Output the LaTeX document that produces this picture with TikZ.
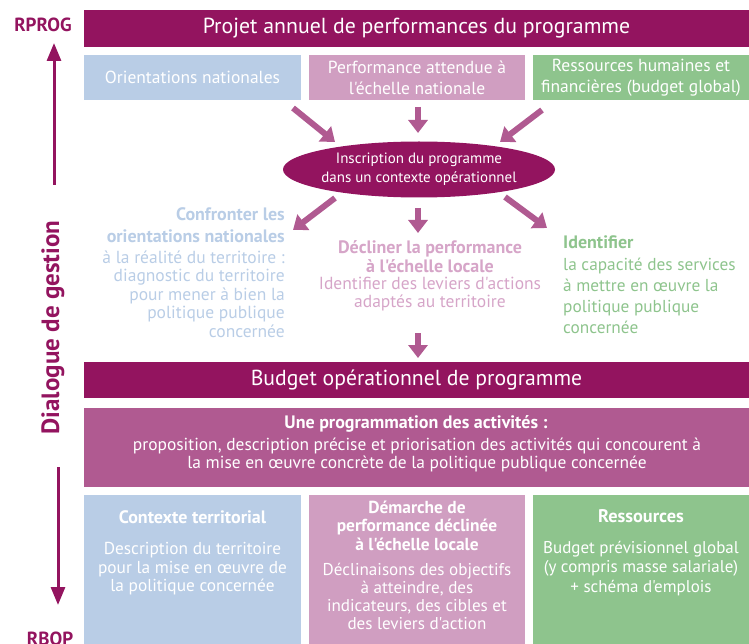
\documentclass[tikz,border=0pt]{standalone}
\usepackage{fontspec}
\setmainfont{PT Sans}[Ligatures=TeXOff]
\usetikzlibrary{arrows.meta,shapes.geometric}
\definecolor{cdark}{HTML}{93145F}
\definecolor{cmid}{HTML}{B05A91}
\definecolor{cpink}{HTML}{D09EC1}
\definecolor{cblue}{HTML}{B9CDE6}
\definecolor{cgreen}{HTML}{8EC48D}
\definecolor{cpinktxt}{HTML}{D6A5C8}
\newcommand{\fs}[2]{\fontsize{#1}{#2}\selectfont}
\begin{document}
\begin{tikzpicture}[x=1pt,y=-1pt,
  bar/.style={fill=cdark, inner sep=0pt, minimum width=665pt, text=white},
  rbox/.style={inner sep=0pt, minimum width=217pt, minimum height=45pt, text=white, align=center, font=\fs{17.5}{21}},
  bbox/.style={inner sep=0pt, minimum width=217pt, minimum height=160pt},
  txt/.style={inner sep=0pt, align=center},
  arr/.style={cmid, line width=6pt, -{Triangle[length=13pt,width=19pt]}},
  vline/.style={cdark, line width=3pt, -{Triangle[length=18pt,width=14pt]}}
]
\useasboundingbox (0,0) rectangle (749,644);

% top
\node[bar, minimum height=37pt, font=\fs{21.8}{24}] (pap) at (416.5,28.5) {Projet annuel de performances du programme};
\node[rbox, fill=cblue] (on) at (192.5,77.5) {Orientations nationales};
\node[rbox, fill=cpink, minimum width=216pt] (pn) at (417,77.5) {Performance attendue à\\l'échelle nationale};
\node[rbox, fill=cgreen, minimum width=216pt] (rh) at (641,77.5) {Ressources humaines et\\financières (budget global)};

% ellipse
\node[ellipse, fill=cdark, minimum width=272pt, minimum height=56pt, inner sep=0pt] (ins) at (419,169.5) {};
\node[txt, text=white, font=\fs{15}{19}] (instxt) at (ins.center) {Inscription du programme\\dans un contexte opérationnel};

% arrows in
\coordinate (a1s) at (293,108); \coordinate (a1e) at (335,142);
\coordinate (a2s) at (418,107); \coordinate (a2e) at (418,133);
\coordinate (a3s) at (542,110); \coordinate (a3e) at (500,142);
\draw[arr] (a1s) -- (a1e);
\draw[arr] (a2s) -- (a2e);
\draw[arr] (a3s) -- (a3e);
% arrows out
\coordinate (a4s) at (335,198); \coordinate (a4e) at (293,230);
\coordinate (a5s) at (418,208); \coordinate (a5e) at (418,233);
\coordinate (a6s) at (505,197); \coordinate (a6e) at (547,228);
\draw[arr] (a4s) -- (a4e);
\draw[arr] (a5s) -- (a5e);
\draw[arr] (a6s) -- (a6e);

% left text
\node[txt, anchor=north east, align=right, text=cblue, font=\bfseries\fs{18}{22}] (conf) at (285,207) {Confronter les\\orientations nationales};
\node[txt, anchor=north east, align=right, text=cblue, font=\fs{17.5}{18.5}] (confb) at (285,250.4) {à la réalité du territoire :\\diagnostic du territoire\\pour mener à bien la\\politique publique\\concernée};
% middle text
\node[txt, anchor=north, text=cpinktxt, font=\bfseries\fs{18}{19.5}] (decl) at (430,240) {Décliner la performance\\à l'échelle locale};
\node[txt, anchor=north, text=cpinktxt, font=\fs{17.5}{18}] (declb) at (430,277.4) {Identifier des leviers d'actions\\adaptés au territoire};
% right text
\node[txt, anchor=base west, text=cgreen, font=\bfseries\fs{18}{21}] (ident) at (563,248) {Identifier};
\node[txt, anchor=north west, align=left, text=cgreen, font=\fs{17.3}{21}] (identb) at (563,257.5) {la capacité des services\\à mettre en œuvre la\\politique publique\\concernée};

\coordinate (a7s) at (418,333); \coordinate (a7e) at (418,358);
\draw[arr] (a7s) -- (a7e);

% budget
\node[bar, minimum height=36pt, font=\fs{21.7}{24}] (bop) at (416.5,380) {Budget opérationnel de programme};
\node[fill=cmid, inner sep=0pt, minimum width=665pt, minimum height=79pt] (prog) at (416.5,447.5) {};
\node[txt, anchor=base, text=white, font=\bfseries\fs{18}{20}] (progt) at (416,428) {Une programmation des activités :};
\node[txt, anchor=north, text=white, font=\fs{17.4}{18}] (progb) at (417,437.5) {proposition, description précise et priorisation des activités qui concourent à\\la mise en œuvre concrète de la politique publique concernée};

% bottom boxes
\node[bbox, fill=cblue] (ct) at (192.5,575) {};
\node[bbox, fill=cpink, minimum width=216pt] (dp) at (417,575) {};
\node[bbox, fill=cgreen, minimum width=216pt] (rs) at (641,575) {};
\node[txt, anchor=base, text=white, font=\bfseries\fs{18}{18.5}] (ctt) at (192.5,523) {Contexte territorial};
\node[txt, anchor=north, text=white, font=\fs{17.3}{18.5}] (ctb) at (192.5,542.5) {Description du territoire\\pour la mise en œuvre de\\la politique concernée};
\node[txt, anchor=north, text=white, font=\bfseries\fs{17.4}{18.5}] (dpt) at (417,500.5) {Démarche de\\performance déclinée\\à l'échelle locale};
\node[txt, anchor=north, text=white, font=\fs{17.1}{18}] (dpb) at (417,562.7) {Déclinaisons des objectifs\\à atteindre, des\\indicateurs, des cibles et\\des leviers d'action};
\node[txt, anchor=base, text=white, font=\bfseries\fs{18.3}{19}] (rst) at (641,522) {Ressources};
\node[txt, anchor=north, text=white, font=\fs{17}{19.5}] (rsb) at (641,540.8) {Budget prévisionnel global\\(y compris masse salariale)\\+ schéma d'emplois};

% left axis
\node[txt, anchor=base, text=cdark, font=\bfseries\fs{19}{24}] (rprog) at (43,32) {RPROG};
\node[txt, anchor=north, text=cdark, font=\bfseries\fs{19}{24}] (rbop) at (50,632) {RBOP};
\node[txt, rotate=90, text=cdark, font=\bfseries\fs{25}{28}] (dial) at (53,327.5) {Dialogue de gestion};
\coordinate (dt1) at (54,185); \coordinate (dt2) at (54,43);
\coordinate (db1) at (58,467); \coordinate (db2) at (58,605);
\draw[vline] (dt1) -- (dt2);
\draw[vline] (db1) -- (db2);
\end{tikzpicture}
\end{document}
